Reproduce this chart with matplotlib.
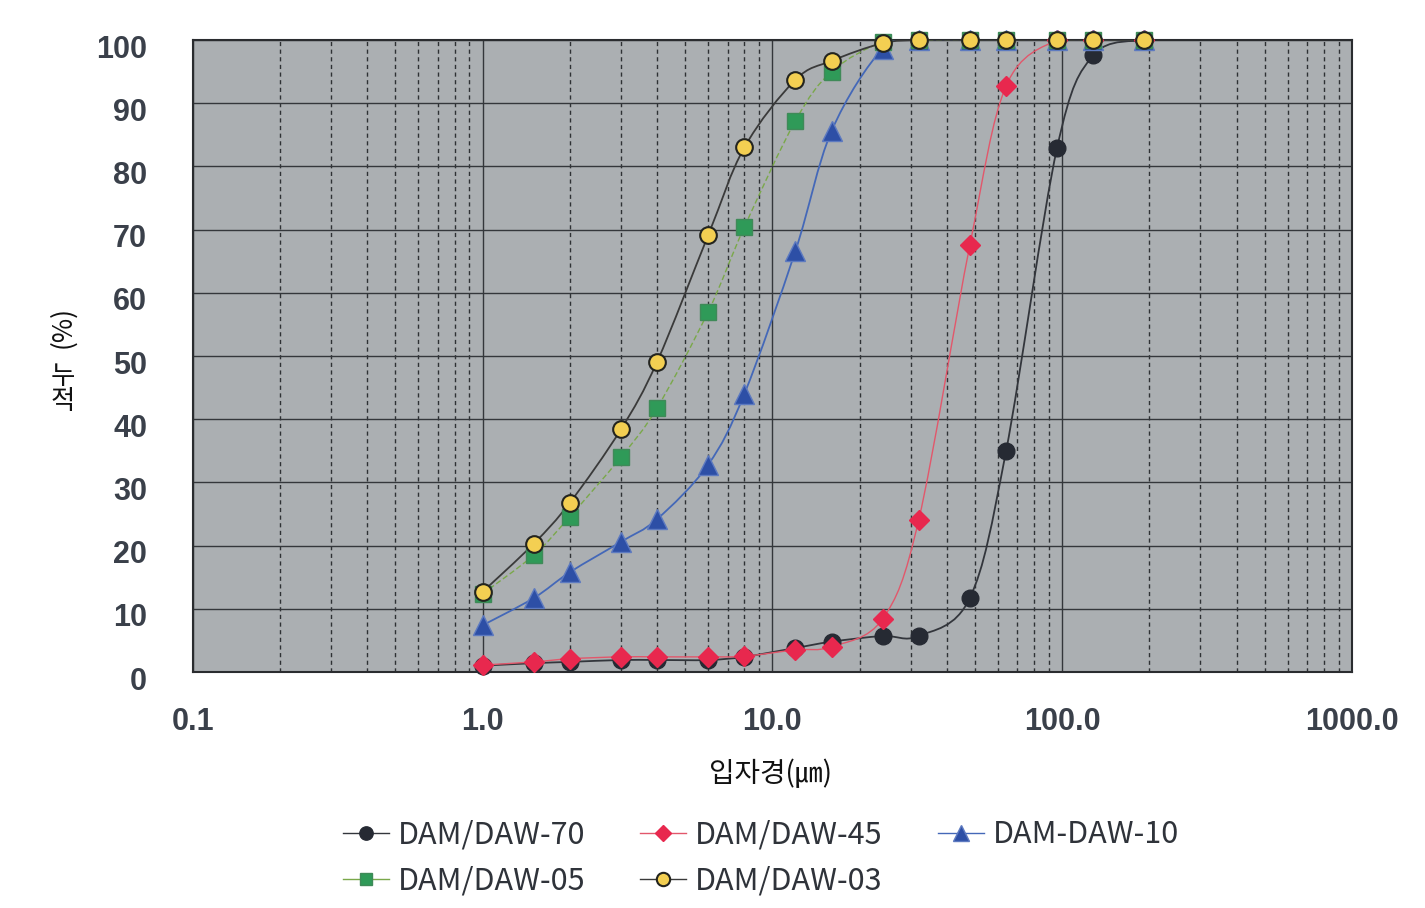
import numpy as np
import matplotlib.pyplot as plt
from matplotlib.path import Path
from matplotlib.patches import PathPatch
from matplotlib.lines import Line2D
from matplotlib.transforms import ScaledTranslation

# particle size classes (um) and cumulative passing (%)
sizes = [1.0, 1.5, 2.0, 3.0, 4.0, 6.0, 8.0, 12.0, 16.0, 24.0, 32.0, 48.0, 64.0, 96.0, 128.0, 192.0]

daw70 = [1.0, 1.4, 1.6, 1.9, 1.9, 1.9, 2.4, 3.8, 4.8, 5.7, 5.7, 11.7, 34.9, 82.9, 97.6, 100.0]
daw45 = [1.1, 1.6, 2.1, 2.4, 2.4, 2.4, 2.5, 3.5, 4.0, 8.4, 24.1, 67.5, 92.7, 100.0, 100.0, 100.0]
daw10 = [7.4, 11.7, 15.8, 20.6, 24.2, 32.8, 44.0, 66.6, 85.6, 98.6, 100.0, 100.0, 100.0, 100.0, 100.0, 100.0]
daw05 = [12.4, 18.5, 24.6, 34.0, 41.8, 57.0, 70.4, 87.2, 95.0, 99.7, 100.0, 100.0, 100.0, 100.0, 100.0, 100.0]
daw03 = [12.7, 20.3, 26.8, 38.4, 49.1, 69.1, 83.0, 93.7, 96.7, 99.5, 100.0, 100.0, 100.0, 100.0, 100.0, 100.0]

names = ['DAM/DAW-70', 'DAM/DAW-45', 'DAM-DAW-10', 'DAM/DAW-05', 'DAM/DAW-03']
x_ticks = [0.1, 1.0, 10.0, 100.0, 1000.0]
x_ticklabels = ['0.1', '1.0', '10.0', '100.0', '1000.0']
y_ticks = list(range(0, 101, 10))


def smooth_path(x, y):
    """Catmull-Rom style bezier through the points (in log-x space)."""
    lx = np.log10(np.asarray(x, float))
    y = np.asarray(y, float)
    p = np.column_stack([lx, y])
    n = len(p)
    verts = [p[0]]
    codes = [Path.MOVETO]
    for i in range(n - 1):
        p0 = p[i - 1] if i > 0 else p[i]
        p3 = p[i + 2] if i + 2 < n else p[i + 1]
        c1 = p[i] + (p[i + 1] - p0) / 6.0
        c2 = p[i + 1] - (p3 - p[i]) / 6.0
        verts += [c1, c2, p[i + 1]]
        codes += [Path.CURVE4] * 3
    verts = np.array(verts)
    verts[:, 0] = 10 ** verts[:, 0]
    return Path(verts, codes)


styles = [
    dict(color='#33363c', ls='-', lw=1.3, marker='o', mfc='#262a33', mec='#262a33', ms=12, mew=1.0),
    dict(color='#e2576b', ls='-', lw=1.0, marker='D', mfc='#e8284e', mec='#e8284e', ms=10.5, mew=1.0),
    dict(color='#4468b8', ls='-', lw=1.3, marker='^', mfc='#2d4fa6', mec='#5d7ac0', ms=14, mew=1.0),
    dict(color='#7aa84a', ls=(0, (4, 2)), lw=1.0, marker='s', mfc='#2f9a58', mec='#3f8a58', ms=11, mew=1.0),
    dict(color='#3a3a3a', ls='-', lw=1.3, marker='o', mfc='#f3cf52', mec='#23241f', ms=12, mew=1.5),
]
series = [daw70, daw45, daw10, daw05, daw03]

fig = plt.figure(figsize=(14.25, 9.08), dpi=100)
ax = fig.add_axes([0.1354, 0.2599, 0.8133, 0.6960])
ax.set_facecolor('#abafb2')
ax.set_xscale('log')
ax.set_xlim(0.1, 1000)
ax.set_ylim(0, 100)

# grid: solid decades and every 10 %, dashed minor decades
ax.grid(True, which='major', axis='both', color='#34373b', lw=1.0, ls='-')
ax.grid(True, which='minor', axis='x', color='#2e3134', lw=1.0, ls=(0, (3, 2.5)))
ax.set_axisbelow(True)

handles = []
for vals, st, name in zip(series, styles, names):
    patch = PathPatch(smooth_path(sizes, vals), fill=False, edgecolor=st['color'],
                      lw=st['lw'], ls=st['ls'], zorder=3)
    ax.add_patch(patch)
    ax.plot(sizes, vals, ls='none', marker=st['marker'], ms=st['ms'],
            mfc=st['mfc'], mec=st['mec'], mew=st['mew'], zorder=4, clip_on=False)
    handles.append(Line2D([], [], color=st['color'], lw=1.0, ls='-', marker=st['marker'],
                          ms=st['ms'] * 0.8, mfc=st['mfc'], mec=st['mec'], mew=st['mew'],
                          label=name))

for s in ax.spines.values():
    s.set_color('#2a2c2f')
    s.set_linewidth(1.5)

tick_color = '#3a404a'
ax.set_xticks(x_ticks)
ax.set_xticklabels(x_ticklabels)
ax.set_yticks(y_ticks)
ax.set_yticklabels([str(v) for v in y_ticks])
ax.tick_params(axis='both', which='both', length=0)
ax.tick_params(axis='x', pad=25, labelsize=22, labelcolor=tick_color)
ax.tick_params(axis='y', pad=33, labelsize=22, labelcolor=tick_color)
for lab in ax.get_xticklabels() + ax.get_yticklabels():
    lab.set_fontweight('bold')
    lab.set_family(['Liberation Sans', 'DejaVu Sans'])
# y labels sit a little below their grid lines
shift = ScaledTranslation(0, -0.06, fig.dpi_scale_trans)
for lab in ax.get_yticklabels():
    lab.set_transform(lab.get_transform() + shift)

kr = ['Noto Sans CJK KR', 'DejaVu Sans']
fig.text(0.541, 0.148, '입자경(㎛)', ha='center', va='center', fontsize=20, family=kr, color='#111111')
fig.text(0.044, 0.640, '(%)', ha='center', va='center', fontsize=19, rotation=90,
         family=kr, color='#111111')
fig.text(0.044, 0.572, '누\n적', ha='center', va='center', fontsize=19, family=kr,
         rotation=0, color='#111111', linespacing=0.9)

# row-wise legend order for a 3-column layout
order = [0, 3, 1, 4, 2]
leg = fig.legend([handles[i] for i in order], [names[i] for i in order],
                 loc='center', bbox_to_anchor=(0.534, 0.055), ncol=3, frameon=False,
                 prop={'family': kr, 'size': 22}, handlelength=1.5, handletextpad=0.3,
                 columnspacing=1.8, labelspacing=0.5)
for t in leg.get_texts():
    t.set_color('#2f333a')

fig.savefig('out.png', dpi=100, facecolor='white')
